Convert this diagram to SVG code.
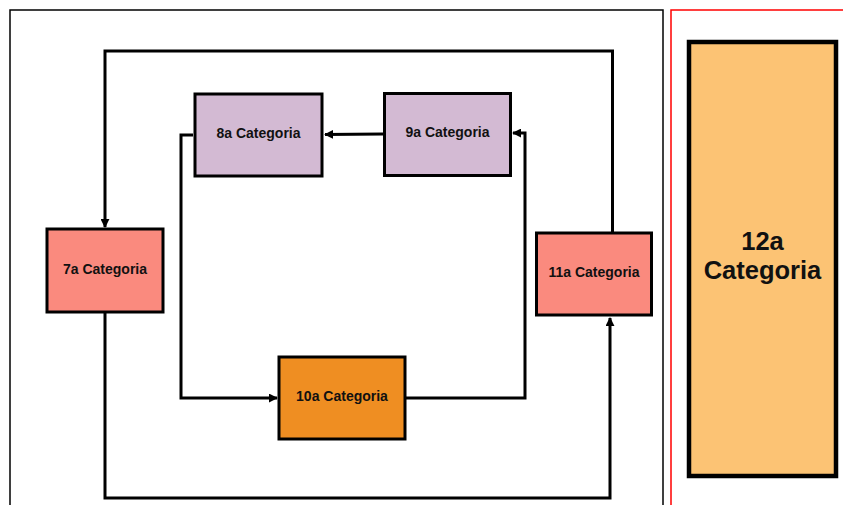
<svg xmlns="http://www.w3.org/2000/svg" width="843" height="505" viewBox="0 0 843 505">
<defs>
<marker id="ah" viewBox="0 0 10 10" refX="9" refY="5" markerWidth="3" markerHeight="3" orient="auto" markerUnits="strokeWidth">
<path d="M0,0 L10,5 L0,10 Z" fill="#000"/>
</marker>
<style>
.box{stroke:#000;stroke-width:3}
.lbl{font-family:"Liberation Sans",Arial,sans-serif;font-weight:bold;font-size:14px;fill:#111;text-anchor:middle;dominant-baseline:central}
.big{font-family:"Liberation Sans",Arial,sans-serif;font-weight:bold;font-size:25.5px;fill:#111;text-anchor:middle}
.c{fill:none;stroke:#000;stroke-width:3;marker-end:url(#ah)}
</style>
</defs>
<rect width="843" height="505" fill="#fff"/>
<g id="frames">
<rect x="10" y="10" width="653" height="520" fill="none" stroke="#000" stroke-width="1.5"/>
<rect x="671" y="10" width="200" height="520" fill="none" stroke="#f00" stroke-width="1.5"/>
</g>
<g id="connectors">
<path class="c" d="M612.5,232 L612.5,51 L105,51 L105,227"/>
<path class="c" d="M105,313 L105,498 L610,498 L610,318"/>
<path class="c" d="M383,134 L325,134.5"/>
<path class="c" d="M193,135 L181,135 L181,398 L277,398"/>
<path class="c" d="M406,398 L525,398 L525,133 L513,133"/>
</g>
<g id="n7"><rect class="box" x="47" y="229" width="116" height="83" fill="#FA8A7E"/><text class="lbl" x="105" y="269">7a Categoria</text></g>
<g id="n8"><rect class="box" x="195" y="94" width="127" height="82" fill="#D3BAD3"/><text class="lbl" x="258.5" y="133">8a Categoria</text></g>
<g id="n9"><rect class="box" x="384.5" y="93.5" width="126" height="82" fill="#D3BAD3"/><text class="lbl" x="447.5" y="132">9a Categoria</text></g>
<g id="n10"><rect class="box" x="279" y="357" width="126" height="82" fill="#EF8E22"/><text class="lbl" x="342" y="396">10a Categoria</text></g>
<g id="n11"><rect class="box" x="536.5" y="233" width="115" height="82" fill="#FA8A7E"/><text class="lbl" x="594" y="272">11a Categoria</text></g>
<g id="n12"><rect x="689" y="42" width="147" height="434" fill="#FCC374" stroke="#000" stroke-width="4.5"/><text class="big" x="762.5" y="250">12a</text><text class="big" x="762.5" y="279">Categoria</text></g>
</svg>
